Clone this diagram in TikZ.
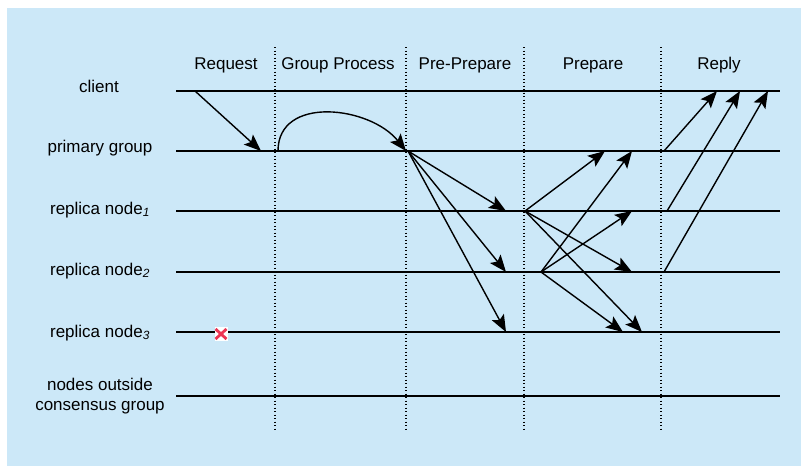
\documentclass[tikz,border=0pt]{standalone}
\usepackage{fontspec}
\setmainfont{Liberation Sans}
\usetikzlibrary{arrows.meta}
\definecolor{bgblue}{RGB}{204,232,248}
\definecolor{xred}{RGB}{236,52,84}
\begin{document}
\begin{tikzpicture}[x=1pt,y=-1pt,
  lane/.style={line width=1.5pt},
  sep/.style={line width=1.1pt, dash pattern=on 1.1pt off 2.4pt},
  msg/.style={line width=1.4pt, -{Stealth[length=17pt,width=13.5pt,inset=3.5pt]}},
  lbl/.style={font=\fontsize{17}{20}\selectfont, align=center, inner sep=0pt},
  hdr/.style={font=\fontsize{17}{20}\selectfont, inner sep=0pt}]
\useasboundingbox (0,0) rectangle (801,466);
\fill[bgblue] (7,8) rectangle (801,466);
% headers
\node[hdr] (hreq) at (226,65) {Request};
\node[hdr] (hgp) at (338,65) {Group Process};
\node[hdr] (hpp) at (465,65) {Pre-Prepare};
\node[hdr] (hpr) at (593,65) {Prepare};
\node[hdr] (hrp) at (719,65) {Reply};
% separators
\foreach \n/\x in {s1/275,s2/406,s3/524,s4/661}{
  \coordinate (\n t) at (\x,47); \coordinate (\n b) at (\x,429);
  \draw[sep] (\n t) -- (\n b);
}
% lane labels
\node[lbl] (lc) at (99,86) {client};
\node[lbl] (lp) at (100,148) {primary group};
\node[lbl] (l1) at (100,210) {replica node\textsubscript{\itshape 1}};
\node[lbl] (l2) at (100,271) {replica node\textsubscript{\itshape 2}};
\node[lbl] (l3) at (100,333) {replica node\textsubscript{\itshape 3}};
\node[lbl] (lo) at (100,396) {nodes outside\\consensus group};
% lanes
\foreach \n/\y in {c/91,p/151,a/211,b/272,d/332,o/396}{
  \coordinate (\n L) at (176,\y); \coordinate (\n R) at (780,\y);
  \draw[lane] (\n L) -- (\n R);
}
% request
\coordinate (c0) at (195,91); \coordinate (p0) at (261,151);
\draw[msg] (c0) -- (p0);
% group process
\coordinate (p1) at (278,151); \coordinate (p2) at (406,151);
\draw[msg] (p1) .. controls (278,95) and (370,106) .. (p2);
% pre-prepare
\coordinate (pp) at (408,151);
\coordinate (a1) at (506,211); \coordinate (b1) at (506,272); \coordinate (d1) at (506,332);
\draw[msg] (pp) -- (a1);
\draw[msg] (pp) -- (b1);
\draw[msg] (pp) -- (d1);
% prepare
\coordinate (a2) at (525,211); \coordinate (b2) at (541,272);
\coordinate (p3) at (605,151); \coordinate (p4) at (632,151);
\coordinate (a3) at (632,211); \coordinate (b3) at (632,272);
\coordinate (d2) at (623,332); \coordinate (d3) at (642,332);
\draw[msg] (a2) -- (p3);
\draw[msg] (a2) -- (b3);
\draw[msg] (a2) -- (d3);
\draw[msg] (b2) -- (p4);
\draw[msg] (b2) -- (a3);
\draw[msg] (b2) -- (d2);
% reply
\coordinate (p5) at (664,151); \coordinate (a4) at (667,211); \coordinate (b4) at (664,272);
\coordinate (c1) at (717,91); \coordinate (c2) at (740,91); \coordinate (c3) at (768,91);
\draw[msg] (p5) -- (c1);
\draw[msg] (a4) -- (c2);
\draw[msg] (b4) -- (c3);
% failure mark
\node[fill=white, minimum width=13pt, minimum height=14pt, inner sep=0pt] (fx) at (221,334) {};
\draw[xred, line width=2.8pt] ([shift={(-5.5,-5)}]fx.center) -- ([shift={(5.5,5)}]fx.center)
  ([shift={(-5.5,5)}]fx.center) -- ([shift={(5.5,-5)}]fx.center);
\end{tikzpicture}
\end{document}
